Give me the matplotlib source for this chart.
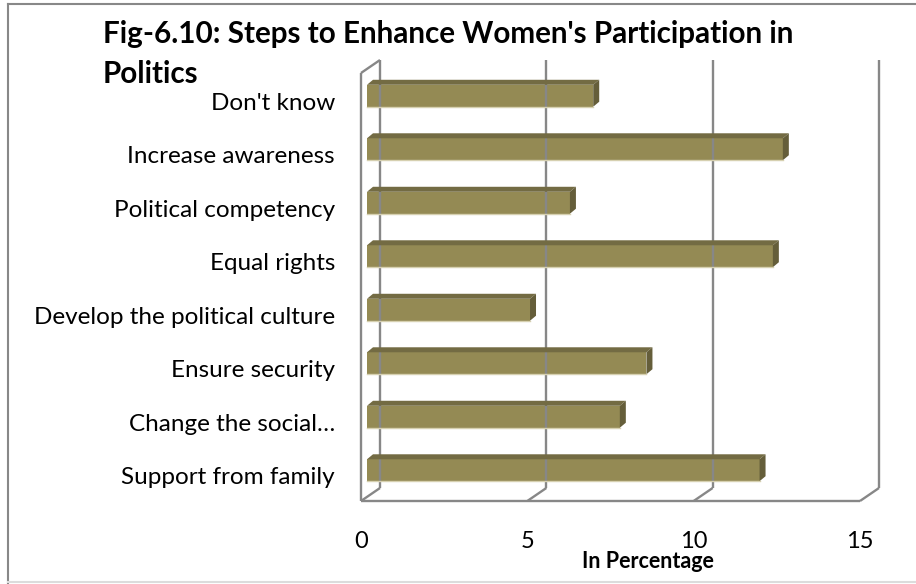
import matplotlib
matplotlib.use("Agg")
import matplotlib.pyplot as plt
from matplotlib.patches import Polygon
from matplotlib.lines import Line2D
from matplotlib.transforms import offset_copy, IdentityTransform

plt.rcParams["font.family"] = ["Lato", "DejaVu Sans"]

# bottom to top, as barh stacks them
categories = [
    "Support from family",
    "Change the social…",
    "Ensure security",
    "Develop the political culture",
    "Equal rights",
    "Political competency",
    "Increase awareness",
    "Don't know",
]
values = [11.8, 7.6, 8.4, 4.9, 12.2, 6.1, 12.5, 6.8]
x_ticks = [0, 5, 10, 15]

W, H = 916, 584
fig = plt.figure(figsize=(W / 100, H / 100), dpi=100)

# axes = the plane the bar fronts sit in
ax = fig.add_axes([367 / W, (H - 497) / H, 499 / W, 428 / H])
ax.set_xlim(0, 15)
ax.set_ylim(-0.5, 7.5)
ax.axis("off")

# front / back planes of the pseudo-3d box
front = offset_copy(ax.transData, fig=fig, x=-6, y=-4, units="dots")
back = offset_copy(ax.transData, fig=fig, x=13, y=9, units="dots")
grid_kw = dict(color="#878787", lw=1.7, clip_on=False, solid_capstyle="butt")


def seg(p0, t0, p1, t1, z=1):
    a = t0.transform(p0)
    b = t1.transform(p1)
    fig.add_artist(Line2D([a[0], b[0]], [a[1], b[1]], transform=IdentityTransform(),
                          zorder=z, **grid_kw))


y0, y1 = ax.get_ylim()
for t in x_ticks:
    seg((t, y0), back, (t, y1), back)       # back wall gridline
    seg((t, y0), front, (t, y0), back)      # floor edge
seg((0, y0), front, (15, y0), front)        # floor front edge
seg((0, y0), front, (0, y1), front)         # side wall front edge
seg((0, y1), front, (0, y1), back)          # side wall top

bars = ax.barh(range(len(values)), values, height=0.41, color="#948A54", zorder=3)

dx, dy = 6, 5
for p in bars.patches:
    (ax0, ay0), (ax1, ay1) = ax.transData.transform(
        [(p.get_x(), p.get_y()), (p.get_x() + p.get_width(), p.get_y() + p.get_height())])
    top = [(ax0, ay1), (ax1, ay1), (ax1 + dx, ay1 + dy), (ax0 + dx, ay1 + dy)]
    side = [(ax1, ay0), (ax1, ay1), (ax1 + dx, ay1 + dy), (ax1 + dx, ay0 + dy)]
    fig.add_artist(Polygon(top, closed=True, transform=IdentityTransform(),
                           fc="#736B43", ec="none", zorder=4))
    fig.add_artist(Polygon(side, closed=True, transform=IdentityTransform(),
                           fc="#655E3A", ec="none", zorder=4))
    fig.add_artist(Line2D([ax0, ax1], [ay0, ay0], transform=IdentityTransform(),
                          color="#d6d0b0", lw=1, zorder=4))

# category labels
lab_tr = offset_copy(ax.transData, fig=fig, x=-32, y=-14, units="dots")
for i, c in enumerate(categories):
    ax.text(0, i, c, transform=lab_tr, ha="right", va="baseline", fontsize=17.5)

# value axis labels along the front floor edge
tick_tr = offset_copy(ax.transData, fig=fig, x=-6, y=-51, units="dots")
for t in x_ticks:
    ax.text(t, y0, str(t), transform=tick_tr, ha="center", va="baseline", fontsize=17)

fig.text(648 / W, 1 - 568 / H, "In Percentage", ha="center", va="baseline",
         fontsize=15.5, fontweight="bold")

fig.text(103 / W, 1 - 43 / H, "Fig-6.10: Steps to Enhance Women's Participation in",
         ha="left", va="baseline", fontsize=21.3, fontweight="bold")
fig.text(103 / W, 1 - 83 / H, "Politics", ha="left", va="baseline",
         fontsize=21.3, fontweight="bold")

# chart area border
fig.add_artist(Line2D([8, 8], [0, H - 4], color="#888888", lw=1.5, transform=IdentityTransform()))
fig.add_artist(Line2D([8, W], [H - 4, H - 4], color="#888888", lw=1.5, transform=IdentityTransform()))
fig.add_artist(Line2D([8, W], [H - 582, H - 582], color="#dcdcdc", lw=1.5, transform=IdentityTransform()))

fig.savefig("out.png", dpi=100)
